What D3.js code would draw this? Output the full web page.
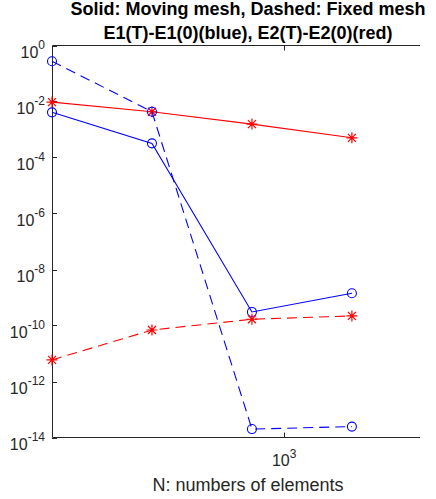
<!DOCTYPE html>
<html>
<head>
<meta charset="utf-8">
<script src="https://cdn.jsdelivr.net/npm/d3@7"></script>
<style>
  html, body { margin: 0; padding: 0; background: #fff; overflow: hidden; }
  svg { display: block; overflow: hidden; font-family: "Liberation Sans", Arial, sans-serif; }
</style>
</head>
<body>
<svg id="chart" width="436" height="499"></svg>
<script>
// number of elements
var nElements = [200, 400, 800, 1600];
// E1(T)-E1(0), blue
var e1Moving = [4.1e-3, 3.2e-4, 3.05e-10, 1.42e-9];
var e1Fixed = [0.275, 4.3e-3, 2.0e-14, 2.45e-14];
// E2(T)-E2(0), red
var e2Moving = [9.5e-3, 4.3e-3, 1.56e-3, 5.05e-4];
var e2Fixed = [5.9e-12, 6.9e-11, 1.67e-10, 2.2e-10];

var yTicks = [1e0, 1e-2, 1e-4, 1e-6, 1e-8, 1e-10, 1e-12, 1e-14];
var xTicks = [1e3];

var titleLines = ['Solid: Moving mesh, Dashed: Fixed mesh', 'E1(T)-E1(0)(blue), E2(T)-E2(0)(red)'];
var xLabel = 'N: numbers of elements';

var series = [
  {values: e1Moving, color: '#0000ff', dash: null, marker: 'o'},
  {values: e2Moving, color: '#ff0000', dash: null, marker: '*'},
  {values: e1Fixed, color: '#0000ff', dash: '10,6', marker: 'o'},
  {values: e2Fixed, color: '#ff0000', dash: '10,6', marker: '*'}
];

(function() {
  var svg = d3.select('#chart');
  var mLeft = 52, mTop = 45.5, mBottom = 437.5, mRight = 444;
  var frameEnd = 420; // the right side of the box is cut off by the picture

  var x = d3.scaleLog().domain([200, 3030]).range([mLeft, mRight]);
  var y = d3.scaleLog().domain([1e-14, 1e0]).range([mBottom, mTop]);

  var axisColor = '#262626';

  // axes frame: top, left, bottom
  var g = svg.append('g');
  g.append('path')
    .attr('d', 'M' + frameEnd + ',' + mTop + 'H' + (mLeft + 0.5) + 'V' + mBottom + 'H' + frameEnd)
    .attr('fill', 'none').attr('stroke', axisColor).attr('stroke-width', 1);

  // y ticks and labels
  yTicks.forEach(function(t) {
    var py = Math.round(y(t)) + 0.5;
    g.append('line').attr('x1', mLeft).attr('x2', mLeft + 5).attr('y1', py).attr('y2', py)
      .attr('stroke', axisColor);
    var exp = Math.round(Math.log10(t));
    var txt = g.append('text').attr('x', 45).attr('y', y(t) + 12)
      .attr('text-anchor', 'end').attr('fill', axisColor).style('font-size', '16px');
    txt.append('tspan').text('10');
    txt.append('tspan').attr('dy', -8.5).style('font-size', '12px').text(exp === 0 ? '0' : '-' + Math.abs(exp));
  });

  // x ticks and labels
  xTicks.forEach(function(t) {
    var px = Math.round(x(t)) + 0.5;
    g.append('line').attr('x1', px).attr('x2', px).attr('y1', mBottom).attr('y2', mBottom - 5)
      .attr('stroke', axisColor);
    g.append('line').attr('x1', px).attr('x2', px).attr('y1', mTop).attr('y2', mTop + 5)
      .attr('stroke', axisColor);
    var txt = g.append('text').attr('x', x(t)).attr('y', 466)
      .attr('text-anchor', 'middle').attr('fill', axisColor).style('font-size', '16px');
    txt.append('tspan').text('10');
    txt.append('tspan').attr('dy', -8.5).style('font-size', '12px').text(String(Math.round(Math.log10(t))));
  });

  // lines and markers
  var line = d3.line()
    .x(function(d, i) { return x(nElements[i]); })
    .y(function(d) { return y(d); });

  series.forEach(function(s) {
    svg.append('path').attr('d', line(s.values))
      .attr('fill', 'none').attr('stroke', s.color).attr('stroke-width', 1.1)
      .attr('stroke-dasharray', s.dash);
    var pts = svg.append('g');
    s.values.forEach(function(v, i) {
      var px = x(nElements[i]), py = y(v);
      if (s.marker === 'o') {
        pts.append('circle').attr('cx', px).attr('cy', py).attr('r', 4.5)
          .attr('fill', 'none').attr('stroke', s.color).attr('stroke-width', 1.1);
      } else {
        var r = 5.5, d = 4;
        var star = 'M' + (px - r) + ',' + py + 'H' + (px + r) +
          'M' + px + ',' + (py - r) + 'V' + (py + r) +
          'M' + (px - d) + ',' + (py - d) + 'L' + (px + d) + ',' + (py + d) +
          'M' + (px - d) + ',' + (py + d) + 'L' + (px + d) + ',' + (py - d);
        pts.append('path').attr('d', star).attr('fill', 'none')
          .attr('stroke', s.color).attr('stroke-width', 1.2);
      }
    });
  });

  // title
  titleLines.forEach(function(t, i) {
    svg.append('text').attr('x', (mLeft + mRight) / 2).attr('y', 15 + i * 23.5)
      .attr('text-anchor', 'middle').attr('fill', '#000')
      .style('font-size', '18px').style('font-weight', 'bold').text(t);
  });

  // x label
  svg.append('text').attr('x', (mLeft + mRight) / 2).attr('y', 491)
    .attr('text-anchor', 'middle').attr('fill', axisColor)
    .style('font-size', '18px').text(xLabel);
})();
</script>
</body>
</html>
